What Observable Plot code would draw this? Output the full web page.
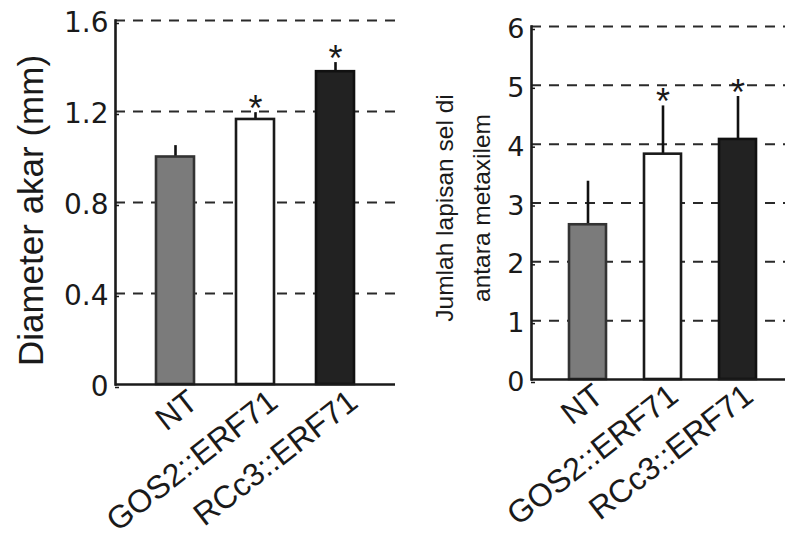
<!DOCTYPE html>
<html><head><meta charset="utf-8">
<script src="https://cdn.jsdelivr.net/npm/d3@7"></script>
<script src="https://cdn.jsdelivr.net/npm/@observablehq/plot@0.6"></script>
<style>
body{margin:0;background:#fff;}
#wrap{display:flex;width:785px;height:540px;overflow:hidden;background:#fff;}
#wrap svg{flex:none;}
</style></head><body><div id="wrap"></div>
<script>
const categories = ["NT", "GOS2::ERF71", "RCc3::ERF71"];
const diameterMean = [1.0, 1.165, 1.375];
const diameterErr = [0.05, 0.03, 0.04];
const diameterTicks = [0, 0.4, 0.8, 1.2, 1.6];
const diameterTickLabels = ["0", "0.4", "0.8", "1.2", "1.6"];
const layersMean = [2.63, 3.83, 4.08];
const layersErr = [0.74, 0.82, 0.73];
const layersTicks = [0, 1, 2, 3, 4, 5, 6];
const layersTickLabels = ["0", "1", "2", "3", "4", "5", "6"];
const significant = [false, true, true];
const fills = ["#7b7b7b", "#ffffff", "#222222"];
const strokes = ["#333333", "#1a1a1a", "#111111"];
const diameterLabel = "Diameter akar (mm)";
const layersLabel = "Jumlah lapisan sel di\nantara metaxilem";

function panel(o) {
  const data = categories.map((c, i) => ({cat: c, mean: o.means[i], upper: o.means[i] + o.errs[i], sig: significant[i], fill: fills[i], stroke: strokes[i]}));
  const svg = Plot.plot({
    width: o.width, height: 540,
    marginLeft: o.marginLeft, marginTop: o.marginTop, marginBottom: o.marginBottom, marginRight: o.marginRight,
    style: {background: "#fff", color: "#1a1a1a", overflow: "visible"},
    x: {domain: categories, range: o.xRange, paddingInner: o.padding, paddingOuter: 0, align: 0.5},
    y: {domain: o.yDomain},
    color: {type: "identity"},
    marks: [
      Plot.ruleY(o.ticks.filter(t => t > 0), {stroke: "#2a2a2a", strokeWidth: 2, strokeDasharray: "10,8"}),
      Plot.ruleX(data, {x: "cat", y1: "mean", y2: "upper", stroke: "#111", strokeWidth: 2.6}),
      Plot.barY(data, {x: "cat", y: "mean", fill: "fill", stroke: "stroke", strokeWidth: 2.6}),
      Plot.text(data.filter(d => d.sig), {x: "cat", y: "upper", text: () => "*", fontSize: 36, lineAnchor: "middle", dy: -3, fontFamily: "Liberation Sans, sans-serif", fill: "#1a1a1a"}),
      Plot.ruleY([0], {stroke: "#1a1a1a", strokeWidth: 2.6}),
      Plot.frame({anchor: "left", stroke: "#1a1a1a", strokeWidth: 2.6}),
      Plot.axisY({ticks: o.ticks, tickFormat: (d) => o.tickLabels[o.ticks.indexOf(d)], tickSize: -4, tickPadding: 11, fontSize: o.tickFont, fontFamily: "DejaVu Sans, sans-serif", label: null, dy: 3, strokeWidth: 1.5}),
      Plot.axisX({tickSize: 0, tickRotate: -38, tickPadding: o.xPad, dx: o.xDx, fontSize: 32, fontFamily: "Liberation Sans, sans-serif", label: null}),
      Plot.text([o.label], {ariaLabel: "ylabel", text: d => d, frameAnchor: "left", rotate: -90, textAnchor: "middle", lineAnchor: "middle", fontSize: o.labelSize, fontFamily: o.labelFont, lineHeight: o.lineHeight || 1.2, dx: o.labelDx, dy: o.labelDy, fill: "#1a1a1a"})
    ]
  });
  if (o.labelLength) {
    d3.select(svg).selectAll('g[aria-label="ylabel"] text')
      .attr("textLength", o.labelLength).attr("lengthAdjust", "spacingAndGlyphs");
  }
  return svg;
}

const left = panel({
  width: 400, marginLeft: 115, marginTop: 20, marginBottom: 156, marginRight: 5,
  xRange: [155, 355], padding: 0.52, yDomain: [0, 1.6],
  ticks: diameterTicks, tickLabels: diameterTickLabels, tickFont: 28,
  means: diameterMean, errs: diameterErr, xPad: 13, xDx: 18,
  label: diameterLabel, labelSize: 35, labelFont: "Liberation Sans, sans-serif", labelDx: -86, labelDy: 8, labelLength: 270
});
const right = panel({
  width: 385, marginLeft: 131, marginTop: 26, marginBottom: 161, marginRight: 0,
  xRange: [168, 357], padding: 0.51, yDomain: [0, 6],
  ticks: layersTicks, tickLabels: layersTickLabels, tickFont: 27,
  means: layersMean, errs: layersErr, xPad: 12, xDx: 11,
  label: layersLabel, labelSize: 24.5, labelFont: "Liberation Sans, sans-serif", lineHeight: 1.5, labelDx: -71.5, labelDy: 5
});
document.getElementById("wrap").append(left, right);
</script></body></html>
